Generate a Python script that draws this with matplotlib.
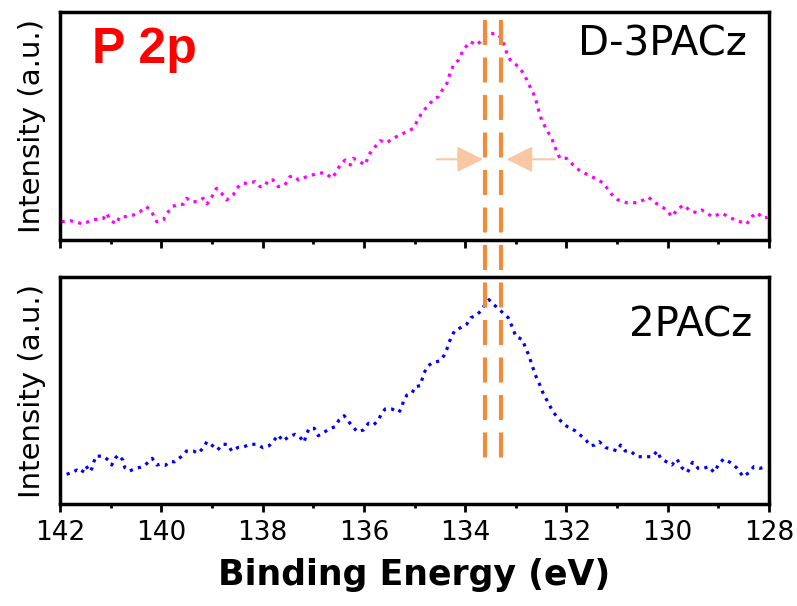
import matplotlib
matplotlib.use('Agg')
import matplotlib.pyplot as plt
from matplotlib.lines import Line2D
from matplotlib import transforms
from matplotlib.ticker import MultipleLocator

# D-3PACz, P 2p (top panel)
top_energy = [141.97, 141.80, 141.54, 141.37, 141.14, 141.08, 141.01, 140.89, 140.82, 140.68,
              140.55, 140.42, 140.30, 140.21, 140.09, 139.96, 139.91, 139.79, 139.70, 139.57,
              139.50, 139.40, 139.30, 139.17, 139.10, 139.00, 138.91, 138.81, 138.71, 138.58,
              138.51, 138.41, 138.28, 138.15, 138.05, 137.95, 137.89, 137.79, 137.69, 137.56,
              137.46, 137.39, 137.29, 137.13, 136.90, 136.77, 136.63, 136.54, 136.47, 136.37,
              136.27, 136.21, 136.08, 135.98, 135.88, 135.75, 135.68, 135.55, 135.42, 135.29,
              135.15, 135.02, 134.92, 134.83, 134.73, 134.63, 134.53, 134.46, 134.36, 134.30,
              134.23, 134.13, 134.04, 133.90, 133.77, 133.67, 133.54, 133.38, 133.28, 133.18,
              133.11, 132.95, 132.85, 132.78, 132.72, 132.62, 132.55, 132.49, 132.39, 132.29,
              132.23, 132.13, 132.00, 131.90, 131.80, 131.70, 131.57, 131.37, 131.27, 131.17,
              131.07, 130.98, 130.81, 130.61, 130.48, 130.38, 130.25, 130.12, 130.02, 129.92,
              129.82, 129.69, 129.56, 129.43, 129.33, 129.23, 129.13, 129.03, 128.93, 128.80,
              128.67, 128.57, 128.44, 128.34, 128.24, 128.11, 128.03]
top_intensity = [18.3, 19.3, 16, 20, 21.7, 26.7, 20, 16, 23.3, 23.3,
                 25, 28.3, 33.3, 30, 18.3, 20, 25, 33.3, 35, 35.7,
                 41.7, 38.3, 38.3, 41.7, 36, 43.3, 51.7, 46.7, 40, 45,
                 51.7, 56.7, 56.7, 58.3, 53.3, 54, 60, 60, 53.3, 55,
                 63.3, 64, 60, 63.3, 66.7, 67.3, 61.7, 68.3, 75, 80,
                 75, 81.7, 78.3, 75, 86.7, 95, 99.3, 97.3, 101.7, 105,
                 108.3, 111.7, 121.7, 129.3, 134, 140.7, 143.3, 149.3, 156.7, 166.7,
                 175, 180, 190, 198.3, 195, 200, 206, 206.7, 201.7, 187.3,
                 180, 173.3, 166.7, 160, 153.3, 143, 130, 120, 110, 101.7,
                 93.3, 81.7, 81.7, 76.7, 71.7, 68.3, 65, 60, 56.7, 50,
                 43.3, 40, 37.3, 37.3, 40, 42.7, 37.3, 33.3, 30, 23.3,
                 30, 35, 29.3, 27.3, 30, 27.3, 23.3, 25, 26.7, 23.3,
                 20, 18.3, 16, 23.3, 27.3, 21.7, 22.7]

# 2PACz (bottom panel)
bot_energy = [141.87, 141.75, 141.67, 141.57, 141.49, 141.41, 141.37, 141.33, 141.29, 141.14,
              141.05, 140.98, 140.91, 140.85, 140.76, 140.72, 140.63, 140.50, 140.39, 140.28,
              140.18, 140.09, 140.03, 139.92, 139.83, 139.73, 139.61, 139.50, 139.37, 139.27,
              139.17, 139.10, 138.98, 138.89, 138.79, 138.69, 138.61, 138.48, 138.37, 138.23,
              138.12, 137.99, 137.87, 137.77, 137.69, 137.60, 137.49, 137.36, 137.27, 137.18,
              137.14, 137.08, 136.98, 136.90, 136.77, 136.65, 136.57, 136.49, 136.39, 136.31,
              136.22, 136.13, 136.01, 135.91, 135.81, 135.71, 135.66, 135.58, 135.45, 135.31,
              135.25, 135.22, 135.15, 135.05, 134.99, 134.89, 134.81, 134.73, 134.63, 134.50,
              134.42, 134.36, 134.32, 134.27, 134.20, 134.09, 133.97, 133.89, 133.79, 133.67,
              133.61, 133.53, 133.44, 133.34, 133.28, 133.15, 133.05, 133.00, 132.92, 132.86,
              132.82, 132.75, 132.67, 132.62, 132.57, 132.51, 132.46, 132.39, 132.32, 132.26,
              132.16, 132.07, 131.98, 131.83, 131.73, 131.63, 131.53, 131.44, 131.35, 131.22,
              131.11, 131.00, 130.93, 130.84, 130.74, 130.60, 130.45, 130.30, 130.21, 130.14,
              130.03, 129.92, 129.82, 129.72, 129.61, 129.51, 129.40, 129.30, 129.18, 129.09,
              129.00, 128.90, 128.77, 128.64, 128.51, 128.39, 128.30, 128.18, 128.04]
bot_intensity = [29.7, 31.7, 34, 31.3, 38.3, 32.3, 35.7, 42.3, 48, 47.7,
                 44, 39, 45.7, 49, 44, 36.3, 33, 35.7, 37, 40.7,
                 45.7, 39, 39.7, 38.7, 42.3, 42.3, 47.3, 53, 53, 50.7,
                 56.3, 62.3, 58, 54, 59.7, 59.7, 53, 56.7, 57.3, 59.7,
                 59.7, 56.3, 58.3, 64, 69, 63, 67, 69.7, 67.3, 61.7,
                 69, 75.7, 75.7, 68.3, 72.3, 75.7, 77.3, 84, 88.3, 83,
                 77.3, 72.3, 74, 80.7, 79, 84, 89.7, 95, 95, 91.7,
                 96.3, 103, 109, 110.7, 117.3, 118.3, 131.3, 138.3, 141.7, 143,
                 148.3, 155, 161.3, 167.3, 174, 176.3, 179.7, 186.3, 188.3, 194,
                 199.7, 204.3, 199.7, 195, 192.3, 186.3, 174.7, 167.3, 165.7, 164,
                 157.3, 149.7, 137.3, 129.7, 124, 117.3, 110.7, 104, 97.3, 91.7,
                 85.7, 80.7, 77.3, 73.3, 69, 65, 58.3, 59, 62.3, 56.3,
                 55, 53, 59, 53, 53, 47.3, 47.3, 47.3, 53, 45.7,
                 42.3, 39, 45, 36.3, 31.7, 41.7, 35.7, 35.7, 37.3, 31.7,
                 39, 45, 41.7, 36.3, 27.3, 31.7, 37.3, 35.7, 37.3]

major_ticks = [142, 140, 138, 136, 134, 132, 130, 128]
tick_labels = ['142', '140', '138', '136', '134', '132', '130', '128']
peak_lines = [133.61, 133.29]
# arrows (tail, tip) in eV, at one intensity level
arrow_left = (134.56, 133.65)
arrow_right = (132.23, 133.18)
arrow_level = 80.7

fig = plt.figure(figsize=(7.97, 6.06), dpi=100)
ax1 = fig.add_axes([0.0753, 0.604, 0.8896, 0.3762])
ax2 = fig.add_axes([0.0753, 0.1683, 0.8896, 0.3746])

ax1.plot(top_energy, top_intensity, color='#FF00FF', lw=2.3, linestyle=':')
ax2.plot(bot_energy, bot_intensity, color='#0000FF', lw=2.3, linestyle=':')
ax1.set_ylim(0, 228)
ax2.set_ylim(0, 227)

for ax in (ax1, ax2):
    ax.set_xlim(142, 128)
    ax.set_xticks(major_ticks, tick_labels)
    ax.xaxis.set_minor_locator(MultipleLocator(1))
    ax.set_yticks([])
    ax.tick_params(axis='x', which='major', direction='out', length=5.5, width=2,
                   labelsize=19, pad=6)
    ax.tick_params(axis='x', which='minor', direction='out', length=3, width=2)
    for s in ax.spines.values():
        s.set_linewidth(2.5)
    ax.set_ylabel('Intensity (a.u.)', fontsize=21, labelpad=10)
ax1.tick_params(labelbottom=False)

ax2.set_xlabel('Binding Energy (eV)', fontsize=25, fontweight='bold', labelpad=9)

ax1.text(0.045, 0.776, 'P 2p', transform=ax1.transAxes, fontsize=36, fontweight='bold',
         color='#FF0000', family='Liberation Sans', va='baseline')
ax1.text(0.969, 0.811, 'D-3PACz', transform=ax1.transAxes, fontsize=29,
         ha='right', va='baseline')
ax2.text(0.977, 0.736, '2PACz', transform=ax2.transAxes, fontsize=29,
         ha='right', va='baseline')

# dashed guide lines running through both panels
trans = transforms.blended_transform_factory(ax1.transData, fig.transFigure)
for e in peak_lines:
    fig.add_artist(Line2D([e, e], [0.967, 0.229], transform=trans, color='#F08C3C',
                          lw=3, linestyle=(0, (6, 3))))

for tail, tip in (arrow_left, arrow_right):
    ax1.annotate('', xy=(tip, arrow_level), xytext=(tail, arrow_level),
                 arrowprops=dict(arrowstyle='-|>,head_length=1.6,head_width=0.8',
                                 color='#F8C8A4', lw=1.5, shrinkA=0, shrinkB=0))

fig.savefig('out.png', dpi=100)
